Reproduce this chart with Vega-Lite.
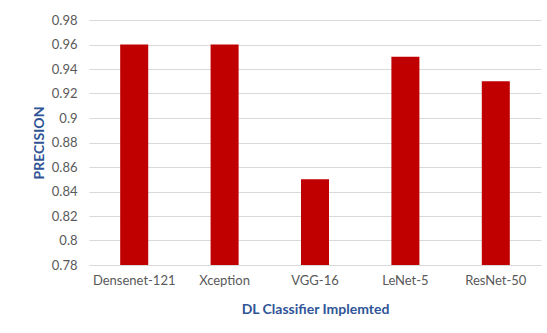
{
  "$schema": "https://vega.github.io/schema/vega-lite/v6.json",
  "autosize": "none",
  "width": 452,
  "height": 245,
  "padding": {"left": 89, "top": 20, "right": 6, "bottom": 68},
  "background": "white",
  "data": {"values": [
    {"model": "Densenet-121", "precision": 0.96},
    {"model": "Xception", "precision": 0.96},
    {"model": "VGG-16", "precision": 0.85},
    {"model": "LeNet-5", "precision": 0.95},
    {"model": "ResNet-50", "precision": 0.93}
  ]},
  "mark": {"type": "bar", "color": "#C00000", "clip": true},
  "encoding": {
    "x": {
      "field": "model", "type": "nominal", "sort": null,
      "scale": {"paddingInner": 0.69, "paddingOuter": 0.345},
      "axis": {
        "title": "DL Classifier Implemted",
        "labelAngle": 0, "labelFont": "Lato", "labelFontSize": 13, "labelColor": "#595959",
        "labelPadding": 9, "ticks": false, "domainColor": "#D9D9D9",
        "titleFont": "Lato", "titleFontSize": 14, "titleFontWeight": "bold", "titleColor": "#2F5597",
        "titlePadding": 15
      }
    },
    "y": {
      "field": "precision", "type": "quantitative",
      "scale": {"domain": [0.78, 0.98], "zero": false},
      "axis": {
        "title": "PRECISION",
        "values": [0.78, 0.8, 0.82, 0.84, 0.86, 0.88, 0.9, 0.92, 0.94, 0.96, 0.98],
        "format": "~g",
        "labelFont": "Lato", "labelFontSize": 13, "labelColor": "#595959",
        "labelPadding": 12, "ticks": false, "domain": false,
        "gridColor": "#D9D9D9", "gridWidth": 1,
        "titleFont": "Lato", "titleFontSize": 14, "titleFontWeight": "bold", "titleColor": "#2F5597",
        "titlePadding": 5
      }
    }
  },
  "config": {"view": {"stroke": null}}
}
